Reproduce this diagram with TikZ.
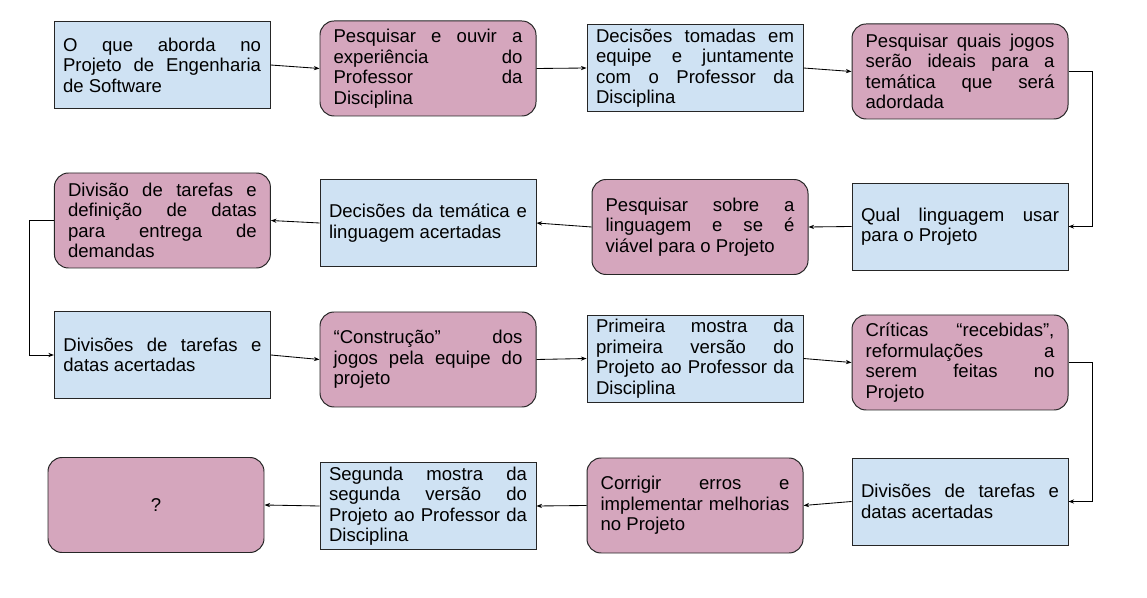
\documentclass[tikz,border=0pt]{standalone}
\usepackage{fontspec}
\setmainfont{Liberation Sans}
\usetikzlibrary{arrows.meta}
\definecolor{azulclaro}{HTML}{CFE2F3}
\definecolor{rosaclaro}{HTML}{D5A6BD}
\tolerance=10000
\hbadness=10000
\hyphenpenalty=10000
\tikzset{
  etapa/.style={draw=black!85, line width=0.7pt, minimum width=5.4cm, inner ysep=1pt,
    align=justify, font=\fontsize{13.2}{14.6}\selectfont},
  azul/.style={etapa, fill=azulclaro, text width=4.95cm, inner xsep=0.225cm, minimum height=2.175cm},
  rosa/.style={etapa, fill=rosaclaro, text width=4.72cm, inner xsep=0.34cm, rounded corners=10pt,
    minimum height=2.375cm},
  seta/.style={-{Stealth[length=4pt,width=3pt]}, line width=0.6pt}
}
\begin{document}
\begin{tikzpicture}
\useasboundingbox (0,0) rectangle (28.675,14.925);

\node[azul] (aborda) at (4.05,13.3) {O que aborda no\linebreak Projeto de Engenharia\linebreak de Software};
\node[rosa] (ouvir) at (10.7,13.2125) {Pesquisar e ouvir a\linebreak experiência do\linebreak Professor da\linebreak Disciplina};
\node[azul] (decisoes) at (17.375,13.225) {Decisões tomadas em\linebreak equipe e juntamente\linebreak com o Professor da\linebreak Disciplina};
\node[rosa] (jogos) at (24.0,13.1375) {Pesquisar quais jogos\linebreak serão ideais para a\linebreak temática que será\linebreak adordada};

\node[azul] (linguagem) at (24.0,9.2625) {Qual linguagem usar\linebreak para o Projeto};
\node[rosa] (viavel) at (17.5,9.25) {Pesquisar sobre a\linebreak linguagem e se é\linebreak viável para o Projeto};
\node[azul] (tematica) at (10.7,9.35) {Decisões da temática e\linebreak linguagem acertadas};
\node[rosa] (divisao) at (4.06,9.4125) {Divisão de tarefas e\linebreak definição de datas\linebreak para entrega de\linebreak demandas};

\node[azul] (datas) at (4.06,6.05) {Divisões de tarefas e\linebreak datas acertadas};
\node[rosa] (construcao) at (10.7,5.9375) {“Construção” dos\linebreak jogos pela equipe do\linebreak projeto};
\node[azul] (mostra1) at (17.375,5.9625) {Primeira mostra da\linebreak primeira versão do\linebreak Projeto ao Professor da\linebreak Disciplina};
\node[rosa] (criticas) at (24.0,5.8625) {Críticas “recebidas”,\linebreak reformulações a\linebreak serem feitas no\linebreak Projeto};

\node[azul] (datas2) at (24.0,2.3875) {Divisões de tarefas e\linebreak datas acertadas};
\node[rosa] (corrigir) at (17.375,2.2875) {Corrigir erros e\linebreak implementar melhorias\linebreak no Projeto};
\node[azul] (mostra2) at (10.7,2.275) {Segunda mostra da\linebreak segunda versão do\linebreak Projeto ao Professor da\linebreak Disciplina};
\node[rosa, align=center] (fim) at (3.9,2.3) {?};

\draw[seta] (aborda.east) -- (ouvir.west);
\draw[seta] (ouvir.east) -- (decisoes.west);
\draw[seta] (decisoes.east) -- (jogos.west);
\draw[seta] (jogos.east) -- ++(0.6,0) |- (linguagem.east);
\draw[seta] (linguagem.west) -- (viavel.east);
\draw[seta] (viavel.west) -- (tematica.east);
\draw[seta] (tematica.west) -- (divisao.east);
\draw[seta] (divisao.west) -- ++(-0.6,0) |- (datas.west);
\draw[seta] (datas.east) -- (construcao.west);
\draw[seta] (construcao.east) -- (mostra1.west);
\draw[seta] (mostra1.east) -- (criticas.west);
\draw[seta] (criticas.east) -- ++(0.6,0) |- (datas2.east);
\draw[seta] (datas2.west) -- (corrigir.east);
\draw[seta] (corrigir.west) -- (mostra2.east);
\draw[seta] (mostra2.west) -- (fim.east);
\end{tikzpicture}
\end{document}
